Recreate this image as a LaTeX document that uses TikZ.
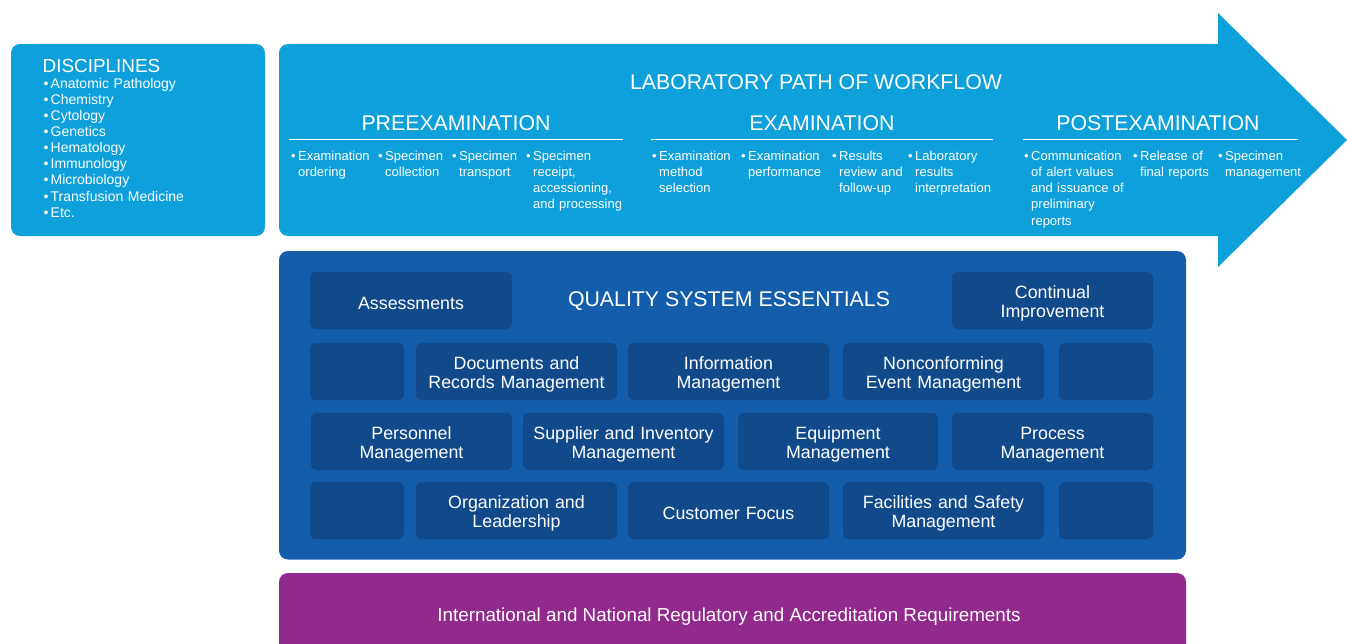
\documentclass[tikz,border=0pt]{standalone}
\usepackage{fontspec}
\setmainfont{Liberation Sans}
\definecolor{skyblue}{RGB}{14,160,219}
\definecolor{qsblue}{RGB}{20,93,170}
\definecolor{qsdark}{RGB}{17,74,139}
\definecolor{regpurple}{RGB}{145,42,140}
% bullet mark and indented continuation line
\newcommand\bul{\makebox[7pt][l]{•}}
\newcommand\nl{\\\hspace*{7pt}}
\tikzset{
  wfitem/.style={font=\fontsize{13}{16.3}\selectfont, text=white, text width=120pt,
    align=left, anchor=base west, inner sep=0pt},
  phase/.style={font=\fontsize{21.3}{24}\selectfont, text=white, anchor=base, inner sep=0pt},
  qsbox/.style={fill=qsdark, rounded corners=6pt, inner sep=0pt, minimum height=57pt},
  qstext/.style={text=white, align=center, text width=200pt, anchor=base,
    font=\fontsize{17.8}{19.5}\selectfont, inner sep=0pt},
  qsone/.style={qstext, yshift=-8.8pt},
  qstwo/.style={qstext, yshift=2.5pt},
  rule/.style={draw=white, line width=1pt},
}
\begin{document}
\begin{tikzpicture}[x=1pt,y=-1pt]
\useasboundingbox (0,0) rectangle (1347,643);
\clip (0,0) rectangle (1347,643);

% disciplines panel
\fill[skyblue, rounded corners=9pt] (11,44) rectangle (265,236);
\node[anchor=base west, inner sep=0pt, text=white, font=\fontsize{18.9}{22}\selectfont]
  (disc) at (42.5,72) {DISCIPLINES};
\node[anchor=base west, inner sep=0pt, text=white, text width=200pt, align=left,
  font=\fontsize{14}{16.15}\selectfont] (disclist) at (43.5,88)
  {\bul Anatomic Pathology\\
   \bul Chemistry\\
   \bul Cytology\\
   \bul Genetics\\
   \bul Hematology\\
   \bul Immunology\\
   \bul Microbiology\\
   \bul Transfusion Medicine\\
   \bul Etc.};

% workflow arrow: body and head
\fill[skyblue, rounded corners=9pt] (279,44) rectangle (1232,236);
\fill[skyblue] (1218,13) -- (1347,140) -- (1218,267) -- cycle;

\node[phase] (title) at (816,89) {LABORATORY PATH OF WORKFLOW};
\node[phase] (pre) at (456,130) {PREEXAMINATION};
\node[phase] (exam) at (822,130) {EXAMINATION};
\node[phase] (post) at (1158,130) {POSTEXAMINATION};

\coordinate (preL) at (289,139.5);  \coordinate (preR) at (623,139.5);
\coordinate (examL) at (651,139.5); \coordinate (examR) at (993,139.5);
\coordinate (postL) at (1023,139.5); \coordinate (postR) at (1298,139.5);
\draw[rule] (preL) -- (preR);
\draw[rule] (examL) -- (examR);
\draw[rule] (postL) -- (postR);

% preexamination steps
\node[wfitem] (p1) at (291,160) {\bul Examination\nl ordering};
\node[wfitem] (p2) at (378,160) {\bul Specimen\nl collection};
\node[wfitem] (p3) at (452,160) {\bul Specimen\nl transport};
\node[wfitem] (p4) at (526,160) {\bul Specimen\nl receipt,\nl accessioning,\nl and processing};
% examination steps
\node[wfitem] (e1) at (652,160) {\bul Examination\nl method\nl selection};
\node[wfitem] (e2) at (741,160) {\bul Examination\nl performance};
\node[wfitem] (e3) at (832,160) {\bul Results\nl review and\nl follow-up};
\node[wfitem] (e4) at (908,160) {\bul Laboratory\nl results\nl interpretation};
% postexamination steps
\node[wfitem] (o1) at (1024,160) {\bul Communication\nl of alert values\nl and issuance of\nl preliminary\nl reports};
\node[wfitem] (o2) at (1133,160) {\bul Release of\nl final reports};
\node[wfitem] (o3) at (1218,160) {\bul Specimen\nl management};

% quality system essentials
\fill[qsblue, rounded corners=9pt] (279,251) rectangle (1186,559.5);
\node[phase] (qse) at (729,306) {QUALITY SYSTEM ESSENTIALS};

\node[qsbox, minimum width=202pt] (assess) at (411,300.5) {};
\node[qsbox, minimum width=201pt] (improve) at (1052.5,300.5) {};

\node[qsbox, minimum width=94pt] (blankA) at (357,371.5) {};
\node[qsbox, minimum width=201pt] (docs) at (516.5,371.5) {};
\node[qsbox, minimum width=201pt] (info) at (728.5,371.5) {};
\node[qsbox, minimum width=201pt] (nonconf) at (943.5,371.5) {};
\node[qsbox, minimum width=94pt] (blankB) at (1106,371.5) {};

\node[qsbox, minimum width=201pt] (personnel) at (411.5,441.5) {};
\node[qsbox, minimum width=201pt] (supplier) at (623.5,441.5) {};
\node[qsbox, minimum width=200pt] (equip) at (838,441.5) {};
\node[qsbox, minimum width=201pt] (process) at (1052.5,441.5) {};

\node[qsbox, minimum width=94pt] (blankC) at (357,510.5) {};
\node[qsbox, minimum width=201pt] (org) at (516.5,510.5) {};
\node[qsbox, minimum width=201pt] (customer) at (728.5,510.5) {};
\node[qsbox, minimum width=201pt] (facil) at (943.5,510.5) {};
\node[qsbox, minimum width=94pt] (blankD) at (1106,510.5) {};

% labels of the essentials
\node[qsone] (assessT) at (assess.center) {Assessments};
\node[qstwo] (improveT) at (improve.center) {Continual\\Improvement};
\node[qstwo] (docsT) at (docs.center) {Documents and\\Records Management};
\node[qstwo] (infoT) at (info.center) {Information\\Management};
\node[qstwo] (nonconfT) at (nonconf.center) {Nonconforming\\Event Management};
\node[qstwo] (personnelT) at (personnel.center) {Personnel\\Management};
\node[qstwo] (supplierT) at (supplier.center) {Supplier and Inventory\\Management};
\node[qstwo] (equipT) at (equip.center) {Equipment\\Management};
\node[qstwo] (processT) at (process.center) {Process\\Management};
\node[qstwo] (orgT) at (org.center) {Organization and\\Leadership};
\node[qsone] (customerT) at (customer.center) {Customer Focus};
\node[qstwo] (facilT) at (facil.center) {Facilities and Safety\\Management};

% regulatory foundation
\fill[regpurple, rounded corners=9pt] (279,573) rectangle (1186,670);
\node[anchor=base, inner sep=0pt, text=white, font=\fontsize{18.8}{20}\selectfont]
  (reg) at (729,621) {International and National Regulatory and Accreditation Requirements};
\end{tikzpicture}
\end{document}
